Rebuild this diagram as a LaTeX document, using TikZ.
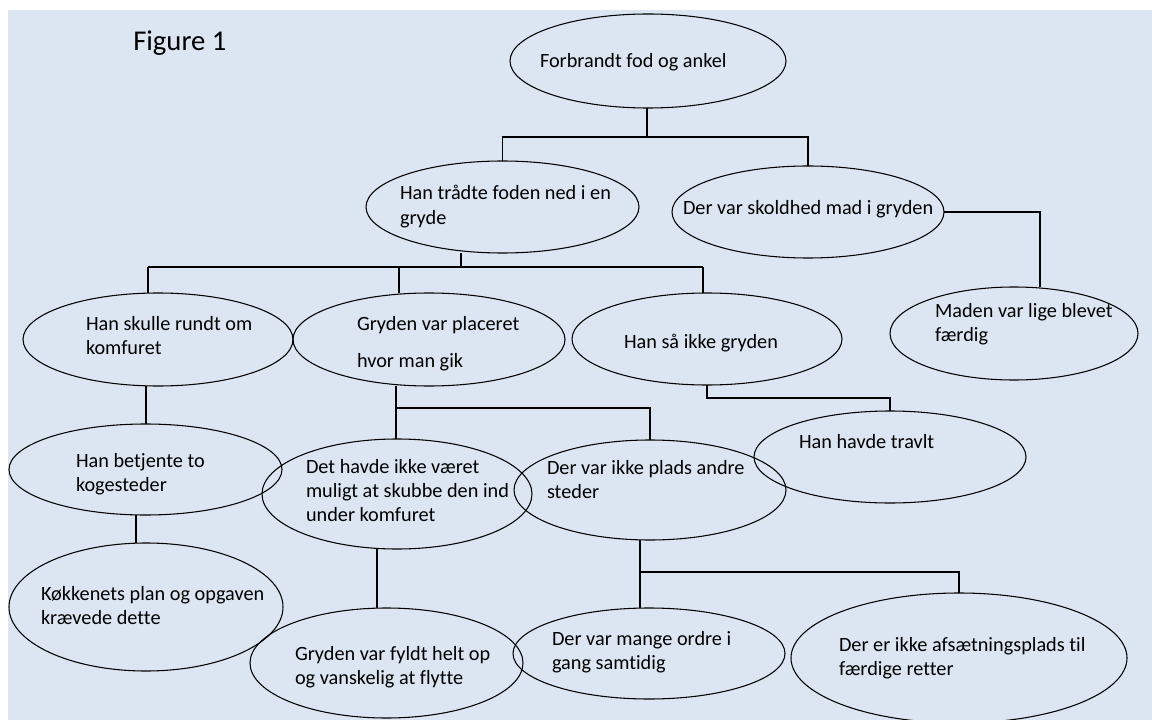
\documentclass[tikz,border=0pt]{standalone}
\usepackage{fontspec}
\setmainfont{Carlito}[Ligatures=NoCommon]
\usetikzlibrary{shapes.geometric}
\definecolor{panel}{RGB}{220,230,242}
\newcommand{\lines}[1]{\begin{tabular}[t]{@{}l@{}}#1\end{tabular}}
\begin{document}
\begin{tikzpicture}[x=0.75pt,y=-0.75pt,
  oval/.style 2 args={draw=black, line width=0.8pt, ellipse, inner sep=0pt, outer sep=0pt,
    minimum width=#1*1.5pt, minimum height=#2*1.5pt},
  txt/.style={anchor=base west, inner sep=0pt, outer sep=0pt, font=\fontsize{15.2}{18}\selectfont},
  link/.style={draw=black, line width=1pt}]
\useasboundingbox (0,0) rectangle (1152,720);
\fill[panel] (8,10) rectangle (1152,720);

% title
\node[anchor=base west, inner sep=0pt, font=\fontsize{21.5}{26}\selectfont] (title) at (133,51) {Figure 1};

% ellipses (centre, then radii in px)
\node[oval={138}{47}]     (A) at (648,61) {};
\node[oval={136.5}{46}]   (B) at (502.5,207) {};
\node[oval={136}{46}]     (C) at (808,212) {};
\node[oval={124}{46.5}]   (D) at (1014,333.5) {};
\node[oval={135}{46.5}]   (E) at (158,339.5) {};
\node[oval={136}{46.5}]   (F) at (429,339.5) {};
\node[oval={135}{46}]     (G) at (707,339) {};
\node[oval={136.5}{45.5}] (H) at (145.5,469.5) {};
\node[oval={135}{55}]     (I) at (397,494) {};
\node[oval={136}{50}]     (J) at (650,490) {};
\node[oval={136}{46}]     (K) at (890,457) {};
\node[oval={137}{64}]     (L) at (146,607) {};
\node[oval={136.5}{55}]   (M) at (386.5,663) {};
\node[oval={136}{45.5}]   (N) at (649,653.5) {};
\node[oval={168}{65}]     (O) at (959,658) {};

% texts
\node[txt] (tA) at (540,68)  {Forbrandt fod og ankel};
\node[txt] (tB) at (400,200) {\lines{Han trådte foden ned i en\\ gryde}};
\node[txt] (tC) at (683,215) {Der var skoldhed mad i gryden};
\node[txt] (tD) at (935,317) {\lines{Maden var lige blevet\\ færdig}};
\node[txt] (tE) at (86,330)  {\lines{Han skulle rundt om\\ komfuret}};
\node[txt] (tF) at (357,330) {\lines{Gryden var placeret\\[9.75pt] hvor man gik}};
\node[txt] (tG) at (624,348) {Han så ikke gryden};
\node[txt] (tH) at (76,467)  {\lines{Han betjente to\\ kogesteder}};
\node[txt] (tI) at (306,473) {\lines{Det havde ikke været\\ muligt at skubbe den ind\\ under komfuret}};
\node[txt] (tJ) at (547,474) {\lines{Der var ikke plads andre\\ steder}};
\node[txt] (tK) at (799,448) {Han havde travlt};
\node[txt] (tL) at (41,600)  {\lines{Køkkenets plan og opgaven\\ krævede dette}};
\node[txt] (tM) at (295,660) {\lines{Gryden var fyldt helt op\\ og vanskelig at flytte}};
\node[txt] (tN) at (552,645) {\lines{Der var mange ordre i\\ gang samtidig}};
\node[txt] (tO) at (839,651) {\lines{Der er ikke afsætningsplads til\\ færdige retter}};

% junction points of the connectors
\coordinate (jA)  at (647,137);
\coordinate (jB)  at (461,267);
\coordinate (jBl) at (148,267);
\coordinate (jBm) at (399,267);
\coordinate (jBr) at (703,267);
\coordinate (xD)  at (1040,0);
\coordinate (xEH) at (146,0);
\coordinate (jF)  at (396,408);
\coordinate (xHL) at (136,0);
\coordinate (xIM) at (377,0);
\coordinate (jJ)  at (640,572);
\coordinate (jJr) at (959,572);

% connectors
\draw[link] (A.south -| jA) -- (jA) -| (B.north);
\draw[link] (jA) -| (C.north);
\draw[link] (B.south -| jB) -- (jB);
\draw[link] (jBl) -- (jBr);
\draw[link] (jBl) -- (E.north -| jBl);
\draw[link] (jBm) -- (F.north -| jBm);
\draw[link] (jBr) -- (G.north -| jBr);
\draw[link] (C.east) -| (D.north -| xD);
\draw[link] (E.south -| xEH) -- (H.north -| xEH);
\draw[link] (F.south -| jF) -- (I.north -| jF);
\draw[link] (jF) -| (J.north);
\draw[link] (G.south) -- ++(0,13) -| (K.north);
\draw[link] (H.south -| xHL) -- (L.north -| xHL);
\draw[link] (I.south -| xIM) -- (M.north -| xIM);
\draw[link] (J.south -| jJ) -- (N.north -| jJ);
\draw[link] (jJ) -- (jJr) -- (O.north);
\end{tikzpicture}
\end{document}
